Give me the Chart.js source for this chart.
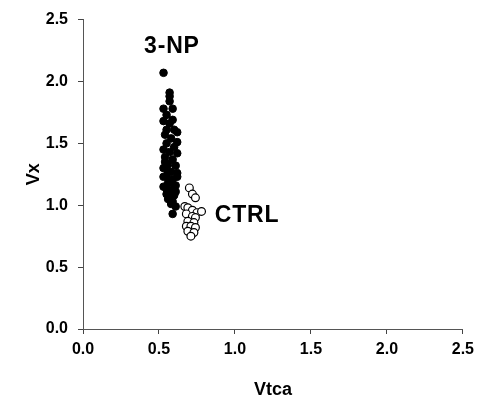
<!DOCTYPE html>
<html>
<head>
<meta charset="utf-8">
<script src="https://cdn.jsdelivr.net/npm/chart.js@4.4.0/dist/chart.umd.min.js"></script>
<style>
  html, body { margin: 0; padding: 0; background: #fff; }
  #wrap { width: 480px; height: 401px; }
</style>
</head>
<body>
<div id="wrap"><canvas id="myChart"></canvas></div>
<script>
// 3-NP group (filled)
const npX = [0.53, 0.57, 0.57, 0.53, 0.59, 0.55, 0.53, 0.57, 0.60, 0.62, 0.54, 0.58, 0.55, 0.60, 0.53,
  0.57, 0.62, 0.54, 0.59, 0.56, 0.61, 0.53, 0.58, 0.62, 0.55, 0.59, 0.56, 0.61, 0.53, 0.58,
  0.55, 0.60, 0.56, 0.62, 0.59, 0.56, 0.61, 0.59, 0.54, 0.57, 0.59, 0.60, 0.55, 0.61, 0.58,
  0.53, 0.62, 0.55, 0.59, 0.57];
const npY = [2.07, 1.91, 1.88, 1.78, 1.78, 1.73, 1.68, 1.66, 1.61, 1.59, 1.57, 1.54, 1.50, 1.47, 1.45,
  1.43, 1.42, 1.39, 1.37, 1.33, 1.32, 1.30, 1.27, 1.26, 1.23, 1.21, 1.18, 1.16, 1.15, 1.12,
  1.09, 1.08, 1.05, 1.23, 1.03, 1.27, 0.99, 0.93, 1.35, 1.19, 1.07, 1.15, 1.13, 1.11, 1.01,
  1.23, 1.51, 1.61, 1.69, 1.84];
// CTRL group (open)
const ctrlX = [0.70, 0.72, 0.74, 0.67, 0.69, 0.72, 0.75, 0.68, 0.72, 0.74, 0.69, 0.73, 0.68, 0.71,
  0.74, 0.69, 0.73, 0.71, 0.78];
const ctrlY = [1.14, 1.09, 1.06, 0.99, 0.98, 0.96, 0.94, 0.93, 0.91, 0.90, 0.87, 0.86, 0.83, 0.83,
  0.82, 0.79, 0.78, 0.75, 0.95];

const labelTexts = ['3-NP', 'CTRL'];
const labelX = [0.585, 1.08];
const labelY = [2.28, 0.917];

const axisTicks = [0, 0.5, 1.0, 1.5, 2.0, 2.5];

const toPts = (xs, ys) => xs.map((x, i) => ({ x: x, y: ys[i] }));

const groupLabels = {
  id: 'groupLabels',
  afterDatasetsDraw(chart) {
    const ctx = chart.ctx;
    const xs = chart.scales.x, ys = chart.scales.y;
    ctx.save();
    ctx.font = 'bold 23px "Liberation Sans", Arial, sans-serif';
    ctx.letterSpacing = '0.8px';
    ctx.fillStyle = '#000';
    ctx.textAlign = 'center';
    ctx.textBaseline = 'middle';
    labelTexts.forEach((t, i) => {
      ctx.fillText(t, xs.getPixelForValue(labelX[i]), ys.getPixelForValue(labelY[i]));
    });
    ctx.restore();
  }
};

const tickFont = { family: '"Liberation Sans", Arial, sans-serif', size: 16, weight: 'bold' };
const titleFont = { family: '"Liberation Sans", Arial, sans-serif', size: 18, weight: 'bold' };

const ctx = document.getElementById('myChart').getContext('2d');
const myChart = new Chart(ctx, {
  type: 'scatter',
  data: {
    datasets: [
      {
        label: '3-NP',
        data: toPts(npX, npY),
        backgroundColor: '#000',
        borderColor: '#000',
        borderWidth: 1,
        pointRadius: 3.8,
      },
      {
        label: 'CTRL',
        data: toPts(ctrlX, ctrlY),
        backgroundColor: '#fff',
        borderColor: '#000',
        borderWidth: 1.2,
        pointRadius: 3.9,
      },
    ],
  },
  options: {
    responsive: true,
    maintainAspectRatio: false,
    animation: false,
    layout: { padding: { left: 23, top: 17, right: 15, bottom: 0 } },
    plugins: { legend: { display: false }, tooltip: { enabled: false } },
    scales: {
      x: {
        type: 'linear',
        min: 0, max: 2.5,
        afterBuildTicks: (s) => { s.ticks = axisTicks.map(v => ({ value: v })); },
        afterFit: (s) => { s.height = 72; },
        ticks: { color: '#000', font: tickFont, padding: 6, callback: (v) => v.toFixed(1) },
        grid: { drawOnChartArea: false, drawTicks: true, tickLength: 5, color: '#444' },
        border: { display: true, color: '#555', width: 1 },
        title: { display: true, text: 'Vtca', color: '#000', font: titleFont, padding: 0 },
      },
      y: {
        type: 'linear',
        min: 0, max: 2.5,
        afterBuildTicks: (s) => { s.ticks = axisTicks.map(v => ({ value: v })); },
        afterFit: (s) => { s.width = 60; },
        ticks: { color: '#000', font: tickFont, padding: 10, callback: (v) => v.toFixed(1) },
        grid: { drawOnChartArea: false, drawTicks: true, tickLength: 5, color: '#444' },
        border: { display: true, color: '#555', width: 1 },
        title: { display: true, text: 'Vx', color: '#000', font: titleFont, padding: 0 },
      },
    },
  },
  plugins: [groupLabels],
});
</script>
</body>
</html>
